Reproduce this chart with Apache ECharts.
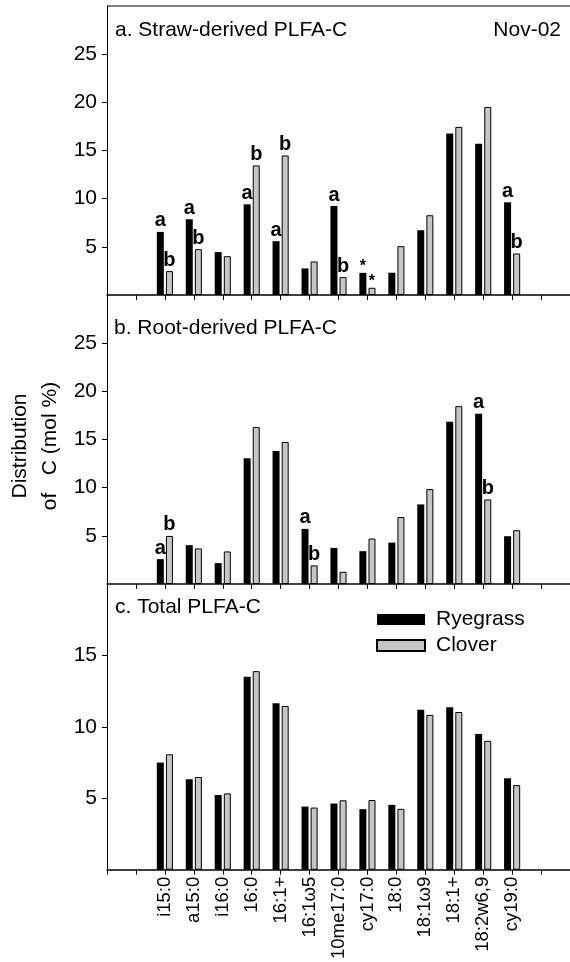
<!DOCTYPE html>
<html>
<head>
<meta charset="utf-8">
<script src="https://cdn.jsdelivr.net/npm/echarts@6/dist/echarts.min.js"></script>
<style>
html,body{margin:0;padding:0;background:#fff;}
#chart{width:570px;height:962px;}
</style>
</head>
<body>
<div id="chart"></div>
<script>
var FONT = "'Liberation Sans', Arial, sans-serif";

var lipids = ['i15:0','a15:0','i16:0','16:0','16:1+','16:1ω5','10me17:0','cy17:0','18:0','18:1ω9','18:1+','18:2w6,9','cy19:0'];

// a. straw-derived
var strawRye    = [6.55, 7.86, 4.45, 9.41, 5.59, 2.76, 9.24, 2.3, 2.31, 6.72, 16.76, 15.69, 9.62];
var strawClover = [2.48, 4.76, 4.03, 13.45, 14.48, 3.48, 1.86, 0.75, 5.07, 8.28, 17.45, 19.52, 4.31];
var strawRyeSig    = ['a','a','','a','a','','a','*','','','','','a'];
var strawCloverSig = ['b','b','','b','b','','b','*','','','','','b'];

// b. root-derived
var rootRye    = [2.58, 4.03, 2.17, 13.05, 13.81, 5.72, 3.75, 3.41, 4.3, 8.26, 16.84, 17.67, 4.96];
var rootClover = [4.99, 3.69, 3.38, 16.29, 14.74, 1.93, 1.27, 4.72, 6.95, 9.85, 18.46, 8.78, 5.58];
var rootRyeSig    = ['a','','','','','a','','','','','','a',''];
var rootCloverSig = ['b','','','','','b','','','','','','b',''];

// c. total
var totalRye    = [7.5, 6.33, 5.23, 13.5, 11.66, 4.42, 4.63, 4.24, 4.54, 11.2, 11.37, 9.5, 6.4];
var totalClover = [8.08, 6.49, 5.34, 13.9, 11.46, 4.35, 4.86, 4.88, 4.26, 10.84, 11.04, 9.02, 5.92];

var ticksAB = [5, 10, 15, 20, 25];
var ticksC = [5, 10, 15];

// two empty slots on the left, two on the right
var cats = ['', ''].concat(lipids, ['', '']);

function pad(vals, sig) {
    var out = [null, null];
    for (var i = 0; i < vals.length; i++) {
        var s = sig ? sig[i] : '';
        out.push({
            value: vals[i],
            label: {
                show: !!s,
                formatter: s,
                fontSize: s === '*' ? 16 : 20,
                distance: s === '*' ? -2 : 1
            }
        });
    }
    out.push(null, null);
    return out;
}

function xAx(i, showLabel) {
    return {
        gridIndex: i, type: 'category', data: cats, boundaryGap: false,
        axisLine: {lineStyle: {color: '#000', width: 1.5}},
        axisTick: {show: true, length: 5, interval: 0, lineStyle: {color: '#000', width: 1}},
        axisLabel: {show: showLabel, interval: 0, rotate: 90, fontSize: 18.5, color: '#000', margin: 7, fontFamily: FONT},
        splitLine: {show: false}
    };
}

function yAx(i, max, ticks) {
    return {
        gridIndex: i, type: 'value', min: 0, max: max, interval: 5,
        axisLine: {show: true, lineStyle: {color: '#000', width: 1}},
        axisTick: {show: true, length: 5, customValues: ticks, lineStyle: {color: '#000'}},
        axisLabel: {customValues: ticks, fontSize: 21, color: '#000', margin: 10, fontFamily: FONT},
        splitLine: {show: false}
    };
}

function barSeries(name, i, data) {
    var rye = name === 'Ryegrass';
    return {
        name: name, type: 'bar', xAxisIndex: i, yAxisIndex: i,
        barWidth: 7, barGap: '30%',
        itemStyle: rye ? {color: '#000'} : {color: '#c6c6c6', borderColor: '#000', borderWidth: 1},
        label: {show: false, position: 'top', color: '#000', fontWeight: 'bold', fontFamily: FONT},
        data: data
    };
}

var chart = echarts.init(document.getElementById('chart'));
var option = {
    animation: false,
    backgroundColor: '#fff',
    textStyle: {fontFamily: FONT},
    grid: [
        {left: 107, right: -2, top: 6, height: 289},
        {left: 107, right: -2, top: 295, height: 289},
        {left: 107, right: -2, top: 584, height: 287}
    ],
    xAxis: [xAx(0, false), xAx(1, false), xAx(2, true)],
    yAxis: [yAx(0, 30, ticksAB), yAx(1, 30, ticksAB), yAx(2, 20, ticksC)],
    legend: {
        orient: 'vertical', left: 376, top: 609, itemWidth: 48, itemHeight: 11, itemGap: 5,
        icon: 'rect', padding: 0,
        textStyle: {fontSize: 21, color: '#000', lineHeight: 21, padding: [0, 0, 0, 6], fontFamily: FONT},
        data: ['Ryegrass', 'Clover']
    },
    graphic: [
        {type: 'line', shape: {x1: 107, y1: 6, x2: 570, y2: 6}, style: {stroke: '#000', lineWidth: 1}},
        {type: 'text', x: 115, y: 30, style: {text: 'a. Straw-derived PLFA-C', font: '21px ' + FONT, fill: '#000', textVerticalAlign: 'middle'}},
        {type: 'text', x: 561, y: 30, style: {text: 'Nov-02', font: '21px ' + FONT, fill: '#000', textAlign: 'right', textVerticalAlign: 'middle'}},
        {type: 'text', x: 114, y: 328, style: {text: 'b. Root-derived PLFA-C', font: '21px ' + FONT, fill: '#000', textVerticalAlign: 'middle'}},
        {type: 'text', x: 115, y: 607, style: {text: 'c. Total PLFA-C', font: '21px ' + FONT, fill: '#000', textVerticalAlign: 'middle'}},
        {type: 'text', x: 35, y: 446, rotation: Math.PI / 2,
            style: {text: 'Distribution\nof   C (mol %)', font: '21px ' + FONT, fill: '#000', textAlign: 'center', textVerticalAlign: 'middle', lineHeight: 30}}
    ],
    series: [
        barSeries('Ryegrass', 0, pad(strawRye, strawRyeSig)),
        barSeries('Clover', 0, pad(strawClover, strawCloverSig)),
        barSeries('Ryegrass', 1, pad(rootRye, rootRyeSig)),
        barSeries('Clover', 1, pad(rootClover, rootCloverSig)),
        barSeries('Ryegrass', 2, pad(totalRye)),
        barSeries('Clover', 2, pad(totalClover))
    ]
};
chart.setOption(option);
</script>
</body>
</html>
